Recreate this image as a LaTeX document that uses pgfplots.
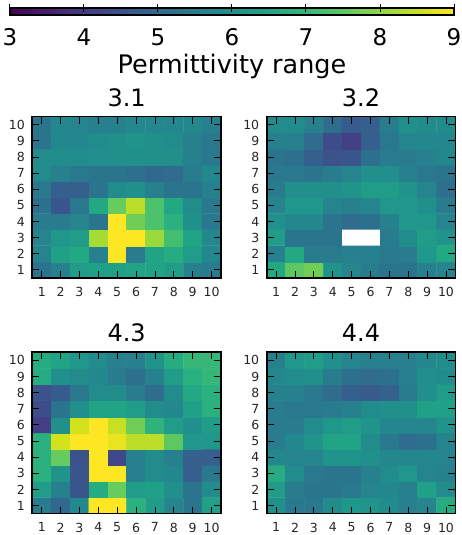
\documentclass[border=0pt]{standalone}
\usepackage{fontspec}
\setmainfont{DejaVu Sans}
\usepackage{pgfplots}
\pgfplotsset{compat=1.18}
\pgfplotsset{
 panel/.style={
  scale only axis, width=188.7pt, height=161.3pt,
  xmin=0.5, xmax=10.5, ymin=0.5, ymax=10.5,
  xtick={1,...,10}, ytick={1,...,10},
  colormap/viridis, point meta min=3, point meta max=9,
  axis on top, tick align=inside, major tick length=7pt,
  axis line style={line width=1.6pt, black},
  major tick style={line width=0.9pt, black},
  tick label style={font=\fontsize{12.5}{12.5}\selectfont, inner sep=0pt, text=black!85},
  xticklabel style={anchor=north, yshift=-9pt},
  yticklabel style={anchor=east, xshift=-7.3pt},
  /pgf/number format/assume math mode=true,
  every axis title/.style={at={(0.5,1)}, anchor=base, yshift=10.5pt, font=\fontsize{24}{24}\selectfont},
 },
 hm/.style={matrix plot*, mesh/cols=10, point meta=explicit},
}
\begin{document}
\begin{tikzpicture}
\useasboundingbox (0,0) rectangle (461pt,535pt);
% colorbar
\begin{axis}[at={(10pt,520pt)}, anchor=south west, scale only axis, width=444pt, height=7pt,
  hide axis, xmin=3, xmax=9, ymin=0, ymax=1, colormap/viridis, point meta min=3, point meta max=9,
  colorbar horizontal, colorbar shift/.style={},
  colorbar style={at={(parent axis.south west)}, anchor=south west, scale only axis, width=444pt, height=7pt,
   xtick={3,...,9}, xtick pos=right, xticklabel pos=left, tick align=center, major tick length=8pt,
   axis line style={line width=1.2pt,black}, major tick style={line width=1pt, black},
   xticklabel style={font=\fontsize{23}{23}\selectfont, inner sep=0pt, anchor=base, yshift=-26.7pt},
   /pgf/number format/assume math mode=true,
   xlabel={Permittivity range},
   xlabel style={font=\fontsize{25.5}{25.5}\selectfont, at={(axis description cs:0.5,0)}, anchor=base, yshift=-59pt, inner sep=0pt}}]
\addplot[draw=none] coordinates {(3,0)};
\end{axis}
% 3.1
\begin{axis}[panel, at={(32.3pt,418.3pt)}, anchor=north west, title={3.1}]
\addplot[hm] coordinates {
(1,1)[5.3] (2,1)[5.6] (3,1)[6.3] (4,1)[6.4] (5,1)[6.4] (6,1)[6.5] (7,1)[6.5] (8,1)[6.3] (9,1)[5.6] (10,1)[5.5]
(1,2)[5.7] (2,2)[6.4] (3,2)[6.6] (4,2)[5.6] (5,2)[9.0] (6,2)[5.5] (7,2)[6.5] (8,2)[6.7] (9,2)[6.3] (10,2)[5.8]
(1,3)[5.7] (2,3)[6.2] (3,3)[6.3] (4,3)[8.2] (5,3)[9.0] (6,3)[9.0] (7,3)[8.1] (8,3)[7.2] (9,3)[6.5] (10,3)[5.8]
(1,4)[5.5] (2,4)[5.5] (3,4)[5.7] (4,4)[5.3] (5,4)[9.0] (6,4)[7.7] (7,4)[7.3] (8,4)[6.8] (9,4)[6.0] (10,4)[5.4]
(1,5)[5.2] (2,5)[4.6] (3,5)[5.4] (4,5)[6.6] (5,5)[7.6] (6,5)[8.4] (7,5)[7.3] (8,5)[6.6] (9,5)[5.9] (10,5)[5.4]
(1,6)[5.4] (2,6)[4.8] (3,6)[4.8] (4,6)[5.3] (5,6)[5.9] (6,6)[6.0] (7,6)[5.6] (8,6)[5.3] (9,6)[5.3] (10,6)[5.6]
(1,7)[5.9] (2,7)[5.6] (3,7)[5.4] (4,7)[5.3] (5,7)[5.3] (6,7)[5.2] (7,7)[5.0] (8,7)[5.1] (9,7)[5.5] (10,7)[5.8]
(1,8)[5.9] (2,8)[5.9] (3,8)[5.9] (4,8)[5.95] (5,8)[6.0] (6,8)[6.0] (7,8)[6.0] (8,8)[6.0] (9,8)[5.6] (10,8)[5.4]
(1,9)[5.3] (2,9)[5.8] (3,9)[5.8] (4,9)[5.9] (5,9)[6.0] (6,9)[6.1] (7,9)[6.0] (8,9)[5.9] (9,9)[5.6] (10,9)[5.4]
(1,10)[5.3] (2,10)[5.8] (3,10)[5.7] (4,10)[5.6] (5,10)[5.6] (6,10)[5.8] (7,10)[5.8] (8,10)[5.8] (9,10)[5.8] (10,10)[5.6]
};
\end{axis}
% 3.2
\begin{axis}[panel, at={(266.7pt,418.3pt)}, anchor=north west, title={3.2}]
\addplot[hm] coordinates {
(1,1)[6.6] (2,1)[7.5] (3,1)[7.7] (4,1)[6.1] (5,1)[5.7] (6,1)[5.5] (7,1)[5.3] (8,1)[5.3] (9,1)[5.6] (10,1)[5.7]
(1,2)[5.6] (2,2)[6.6] (3,2)[5.5] (4,2)[5.5] (5,2)[5.6] (6,2)[5.6] (7,2)[5.4] (8,2)[5.5] (9,2)[6.2] (10,2)[6.6]
(1,3)[6.3] (2,3)[5.3] (3,3)[5.3] (4,3)[5.3] (5,3)[5.5] (6,3)[5.5] (7,3)[5.5] (8,3)[5.9] (9,3)[6.3] (10,3)[6.1]
(1,4)[6.0] (2,4)[5.8] (3,4)[5.8] (4,4)[5.3] (5,4)[5.1] (6,4)[5.2] (7,4)[5.6] (8,4)[6.2] (9,4)[6.2] (10,4)[5.7]
(1,5)[5.7] (2,5)[6.2] (3,5)[6.2] (4,5)[5.7] (5,5)[5.6] (6,5)[5.7] (7,5)[6.2] (8,5)[6.2] (9,5)[6.0] (10,5)[5.5]
(1,6)[5.5] (2,6)[6.0] (3,6)[6.0] (4,6)[6.0] (5,6)[6.1] (6,6)[6.3] (7,6)[6.3] (8,6)[6.1] (9,6)[5.7] (10,6)[5.2]
(1,7)[5.4] (2,7)[5.4] (3,7)[5.3] (4,7)[5.5] (5,7)[5.7] (6,7)[6.0] (7,7)[6.0] (8,7)[5.6] (9,7)[5.4] (10,7)[5.3]
(1,8)[5.3] (2,8)[5.2] (3,8)[4.8] (4,8)[4.5] (5,8)[4.6] (6,8)[5.2] (7,8)[5.5] (8,8)[5.5] (9,8)[5.6] (10,8)[5.8]
(1,9)[5.6] (2,9)[5.6] (3,9)[5.1] (4,9)[4.4] (5,9)[4.1] (6,9)[4.8] (7,9)[5.4] (8,9)[5.7] (9,9)[5.8] (10,9)[5.8]
(1,10)[5.9] (2,10)[5.9] (3,10)[5.6] (4,10)[5.1] (5,10)[4.7] (6,10)[4.8] (7,10)[5.5] (8,10)[6.0] (9,10)[5.9] (10,10)[5.9]
};
\addplot[fill=white, draw=none] coordinates {(4.5,2.5) (6.5,2.5) (6.5,3.5) (4.5,3.5) (4.5,2.5)};
\end{axis}
% 4.3
\begin{axis}[panel, at={(32.3pt,182.7pt)}, anchor=north west, title={4.3}]
\addplot[hm] coordinates {
(1,1)[5.5] (2,1)[5.0] (3,1)[5.8] (4,1)[9.0] (5,1)[9.0] (6,1)[6.8] (7,1)[6.3] (8,1)[5.7] (9,1)[5.3] (10,1)[6.4]
(1,2)[6.3] (2,2)[5.6] (3,2)[4.6] (4,2)[6.7] (5,2)[7.6] (6,2)[6.3] (7,2)[6.4] (8,2)[6.0] (9,2)[5.3] (10,2)[5.9]
(1,3)[6.8] (2,3)[6.1] (3,3)[4.6] (4,3)[9.0] (5,3)[9.0] (6,3)[5.6] (7,3)[5.9] (8,3)[5.8] (9,3)[4.8] (10,3)[5.4]
(1,4)[6.8] (2,4)[7.6] (3,4)[4.5] (4,4)[9.0] (5,4)[4.3] (6,4)[5.6] (7,4)[5.9] (8,4)[5.6] (9,4)[4.8] (10,4)[4.8]
(1,5)[6.8] (2,5)[8.6] (3,5)[9.0] (4,5)[9.0] (5,5)[8.8] (6,5)[8.4] (7,5)[8.4] (8,5)[7.5] (9,5)[6.2] (10,5)[6.2]
(1,6)[4.1] (2,6)[6.0] (3,6)[8.6] (4,6)[9.0] (5,6)[8.5] (6,6)[7.7] (7,6)[6.9] (8,6)[6.3] (9,6)[6.0] (10,6)[6.3]
(1,7)[4.4] (2,7)[5.3] (3,7)[6.0] (4,7)[6.5] (5,7)[6.5] (6,7)[6.3] (7,7)[5.9] (8,7)[5.8] (9,7)[6.4] (10,7)[6.8]
(1,8)[4.5] (2,8)[4.7] (3,8)[5.4] (4,8)[5.9] (5,8)[5.9] (6,8)[5.5] (7,8)[5.1] (8,8)[5.9] (9,8)[6.6] (10,8)[6.8]
(1,9)[6.7] (2,9)[6.0] (3,9)[5.9] (4,9)[5.8] (5,9)[5.5] (6,9)[5.2] (7,9)[5.6] (8,9)[6.3] (9,9)[6.8] (10,9)[7.0]
(1,10)[6.7] (2,10)[6.5] (3,10)[6.2] (4,10)[5.9] (5,10)[5.6] (6,10)[5.6] (7,10)[6.1] (8,10)[6.7] (9,10)[7.0] (10,10)[7.0]
};
\end{axis}
% 4.4
\begin{axis}[panel, at={(266.7pt,182.7pt)}, anchor=north west, title={4.4}]
\addplot[hm] coordinates {
(1,1)[6.0] (2,1)[5.4] (3,1)[5.4] (4,1)[5.9] (5,1)[6.2] (6,1)[6.1] (7,1)[5.9] (8,1)[5.6] (9,1)[5.7] (10,1)[6.7]
(1,2)[6.3] (2,2)[5.5] (3,2)[5.3] (4,2)[5.3] (5,2)[5.4] (6,2)[5.7] (7,2)[5.8] (8,2)[5.6] (9,2)[6.4] (10,2)[5.9]
(1,3)[6.7] (2,3)[5.9] (3,3)[5.4] (4,3)[5.3] (5,3)[5.3] (6,3)[5.6] (7,3)[5.9] (8,3)[6.2] (9,3)[5.7] (10,3)[5.6]
(1,4)[5.8] (2,4)[5.7] (3,4)[5.7] (4,4)[6.1] (5,4)[6.1] (6,4)[6.0] (7,4)[5.8] (8,4)[5.8] (9,4)[5.8] (10,4)[5.7]
(1,5)[5.5] (2,5)[5.8] (3,5)[6.1] (4,5)[6.5] (5,5)[6.5] (6,5)[5.9] (7,5)[5.4] (8,5)[5.1] (9,5)[5.2] (10,5)[5.7]
(1,6)[5.5] (2,6)[5.5] (3,6)[5.9] (4,6)[6.2] (5,6)[6.3] (6,6)[6.1] (7,6)[5.8] (8,6)[5.7] (9,6)[5.7] (10,6)[6.1]
(1,7)[5.5] (2,7)[5.4] (3,7)[5.4] (4,7)[5.5] (5,7)[5.6] (6,7)[5.9] (7,7)[6.0] (8,7)[6.0] (9,7)[6.4] (10,7)[6.4]
(1,8)[5.6] (2,8)[5.6] (3,8)[5.4] (4,8)[5.1] (5,8)[4.8] (6,8)[4.7] (7,8)[4.9] (8,8)[5.5] (9,8)[6.0] (10,8)[6.3]
(1,9)[5.8] (2,9)[5.9] (3,9)[6.0] (4,9)[5.5] (5,9)[5.2] (6,9)[5.1] (7,9)[5.2] (8,9)[5.6] (9,9)[6.0] (10,9)[5.9]
(1,10)[5.6] (2,10)[6.2] (3,10)[6.3] (4,10)[6.0] (5,10)[5.7] (6,10)[5.6] (7,10)[5.6] (8,10)[5.6] (9,10)[5.8] (10,10)[5.9]
};
\end{axis}
\end{tikzpicture}
\end{document}
